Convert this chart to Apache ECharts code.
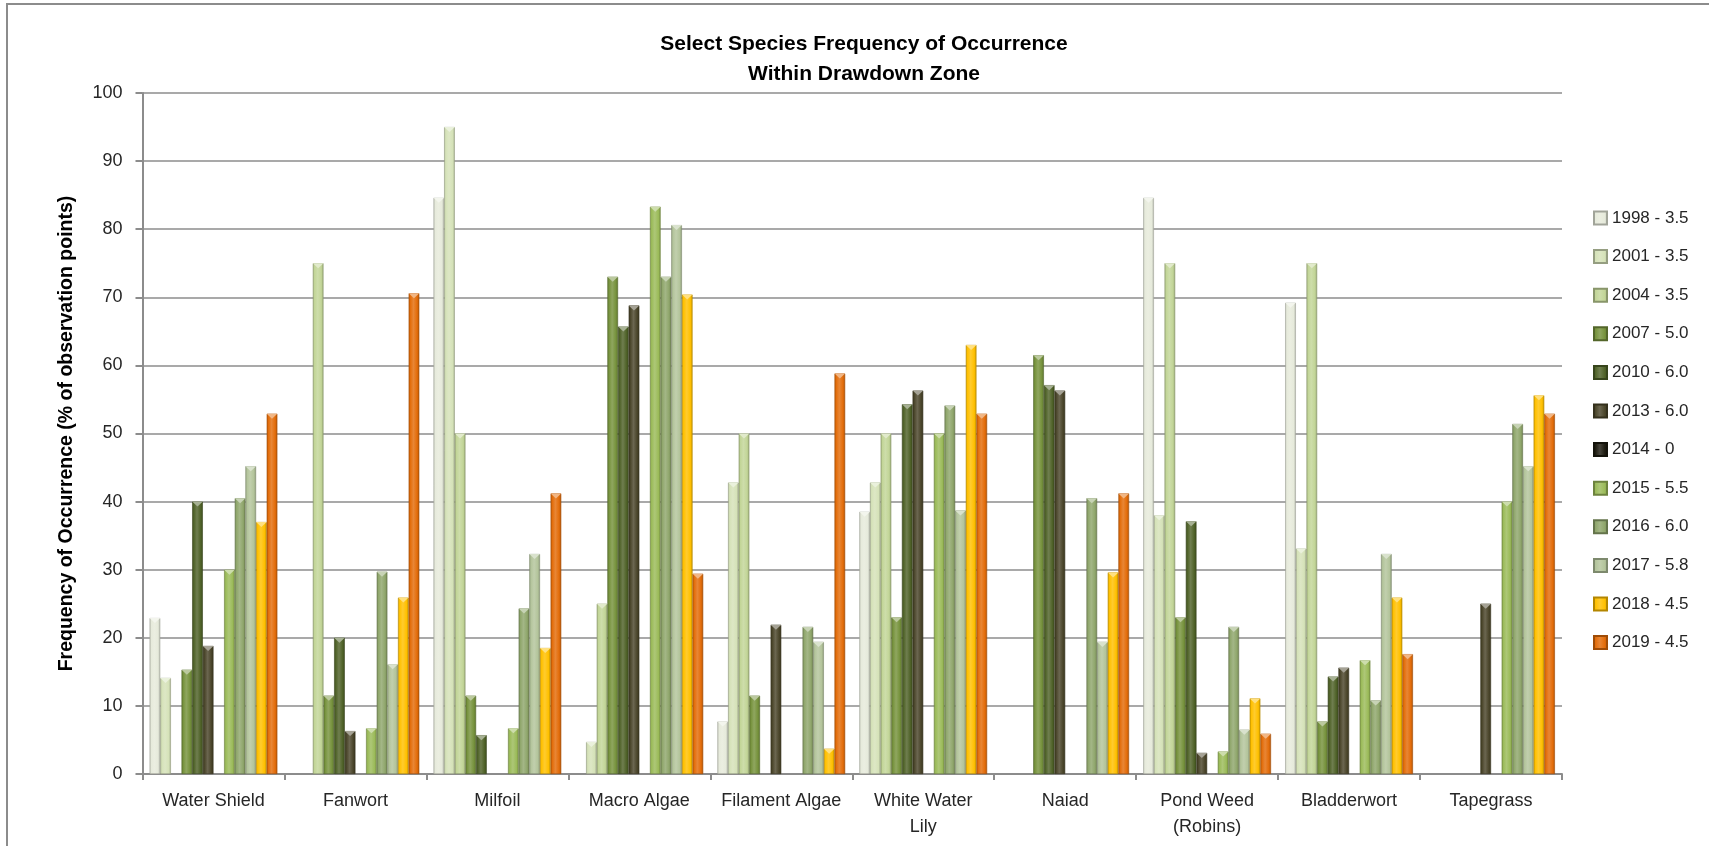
<!DOCTYPE html>
<html>
<head>
<meta charset="utf-8">
<script src="https://cdn.jsdelivr.net/npm/echarts@6/dist/echarts.min.js"></script>
<style>
  html, body { margin: 0; padding: 0; background: #ffffff; }
  #chart { width: 1709px; height: 846px; }
</style>
</head>
<body>
<div id="chart"></div>
<script>
// Species groups along the category axis
const categories = ['Water Shield', 'Fanwort', 'Milfoil', 'Macro Algae', 'Filament Algae',
  'White Water\nLily', 'Naiad', 'Pond Weed\n(Robins)', 'Bladderwort', 'Tapegrass'];

// Survey years (with drawdown depth) shown in the legend
const years = ['1998 - 3.5', '2001 - 3.5', '2004 - 3.5', '2007 - 5.0', '2010 - 6.0', '2013 - 6.0',
  '2014 - 0', '2015 - 5.5', '2016 - 6.0', '2017 - 5.8', '2018 - 4.5', '2019 - 4.5'];

// Frequency of occurrence (%) per species, one list per survey year
const y1998 = [22.9, 0, 84.6, 0, 7.7, 38.5, 0, 84.6, 69.2, 0];
const y2001 = [14.1, 0, 95.0, 4.7, 42.8, 42.8, 0, 38.0, 33.1, 0];
const y2004 = [0, 75.0, 50.0, 25.0, 50.0, 50.0, 0, 75.0, 75.0, 0];
const y2007 = [15.3, 11.5, 11.5, 73.0, 11.5, 23.0, 61.5, 23.0, 7.7, 0];
const y2010 = [40.0, 20.0, 5.7, 65.7, 0, 54.3, 57.1, 37.1, 14.3, 0];
const y2013 = [18.8, 6.3, 0, 68.8, 21.9, 56.3, 56.3, 3.1, 15.6, 25.0];
const y2014 = [0, 0, 0, 0, 0, 0, 0, 0, 0, 0];
const y2015 = [30.0, 6.7, 6.7, 83.3, 0, 50.0, 0, 3.3, 16.7, 40.0];
const y2016 = [40.5, 29.7, 24.3, 73.0, 21.6, 54.1, 40.5, 21.6, 10.8, 51.4];
const y2017 = [45.2, 16.1, 32.3, 80.6, 19.4, 38.7, 19.4, 6.5, 32.3, 45.2];
const y2018 = [37.0, 25.9, 18.5, 70.4, 3.7, 63.0, 29.6, 11.1, 25.9, 55.6];
const y2019 = [52.9, 70.6, 41.2, 29.4, 58.8, 52.9, 41.2, 5.9, 17.6, 52.9];

const seriesValues = [y1998, y2001, y2004, y2007, y2010, y2013, y2014, y2015, y2016, y2017, y2018, y2019];

// Fill colours for each year
const yearColors = ['#e6eadb', '#d5e2b8', '#c2d597', '#76923c', '#4f6228', '#4a452a',
  '#1d1b10', '#9bbb59', '#8fa66b', '#b3c49b', '#ffc000', '#e36c09'];

const FONT = "'Liberation Sans', Arial, sans-serif";
const GRID_GRAY = '#8c8c8c';

function mix(hex, target, t) {
  const a = parseInt(hex.slice(1), 16), b = parseInt(target.slice(1), 16);
  const r = Math.round(((a >> 16) & 255) * (1 - t) + ((b >> 16) & 255) * t);
  const g = Math.round(((a >> 8) & 255) * (1 - t) + ((b >> 8) & 255) * t);
  const bl = Math.round((a & 255) * (1 - t) + (b & 255) * t);
  return '#' + ((1 << 24) + (r << 16) + (g << 8) + bl).toString(16).slice(1);
}

// Bevelled column look: darker edges, lighter centre
function barFill(c) {
  return new echarts.graphic.LinearGradient(0, 0, 1, 0, [
    { offset: 0, color: mix(c, '#000000', 0.18) },
    { offset: 0.15, color: c },
    { offset: 0.45, color: mix(c, '#ffffff', 0.18) },
    { offset: 0.8, color: c },
    { offset: 1, color: mix(c, '#000000', 0.22) }
  ]);
}

// Absent species (0 %) leave an empty slot in the cluster
const asBarData = vals => vals.map(v => (v > 0 ? v : '-'));

const barSeries = years.map((name, i) => ({
  name: name,
  type: 'bar',
  barGap: '0%',
  barCategoryGap: '10%',
  data: asBarData(seriesValues[i]),
  itemStyle: {
    color: barFill(yearColors[i]),
    borderColor: mix(yearColors[i], '#000000', 0.3),
    borderWidth: 0.6
  },
  z: 2
}));

// Small highlight wedge on top of each column
const capSeries = years.map((name, i) => ({
  name: 'cap ' + name,
  type: 'pictorialBar',
  barGap: '0%',
  barCategoryGap: '10%',
  symbol: 'triangle',
  symbolRotate: 180,
  symbolSize: ['100%', 5],
  symbolPosition: 'end',
  data: asBarData(seriesValues[i]),
  itemStyle: { color: mix(yearColors[i], '#ffffff', 0.5) },
  silent: true,
  z: 3
}));

const chart = echarts.init(document.getElementById('chart'), null, { renderer: 'canvas' });

chart.setOption({
  animation: false,
  backgroundColor: '#ffffff',
  title: {
    text: 'Select Species Frequency of Occurrence\nWithin Drawdown Zone',
    left: 859,
    top: 24,
    textAlign: 'center',
    textStyle: { fontFamily: FONT, fontSize: 21, fontWeight: 'bold', color: '#000000', lineHeight: 30 }
  },
  graphic: [{
    type: 'rect',
    shape: { x: 7, y: 4, width: 1760, height: 900 },
    style: { fill: 'none', stroke: GRID_GRAY, lineWidth: 2 },
    silent: true,
    z: -1
  }],
  legend: {
    data: years,
    orient: 'vertical',
    left: 1588,
    top: 203,
    itemWidth: 13,
    itemHeight: 13,
    itemGap: 18.6,
    itemTextGap: 5,
    icon: 'rect',
    selectedMode: false,
    textStyle: { fontFamily: FONT, fontSize: 17, color: '#262626', lineHeight: 20 }
  },
  grid: { left: 142.5, right: 147, top: 93, bottom: 72, containLabel: false },
  xAxis: {
    type: 'category',
    data: categories,
    axisLine: { lineStyle: { color: GRID_GRAY, width: 2 } },
    axisTick: { show: true, length: 6, interval: 0, lineStyle: { color: GRID_GRAY, width: 2 } },
    axisLabel: { interval: 0, margin: 14, fontFamily: FONT, fontSize: 18, color: '#262626', lineHeight: 26 }
  },
  yAxis: {
    type: 'value',
    min: 0,
    max: 100,
    interval: 10,
    name: 'Frequency of Occurrence (% of observation points)',
    nameLocation: 'middle',
    nameGap: 66,
    nameTextStyle: { fontFamily: FONT, fontSize: 19.5, fontWeight: 'bold', color: '#000000' },
    axisLine: { show: true, lineStyle: { color: GRID_GRAY, width: 2 } },
    axisTick: { show: true, length: 7, lineStyle: { color: GRID_GRAY, width: 2 } },
    axisLabel: { margin: 20, fontFamily: FONT, fontSize: 18, color: '#262626' },
    splitLine: { lineStyle: { color: GRID_GRAY, width: 1.5 } }
  },
  series: barSeries.concat(capSeries)
});
</script>
</body>
</html>
